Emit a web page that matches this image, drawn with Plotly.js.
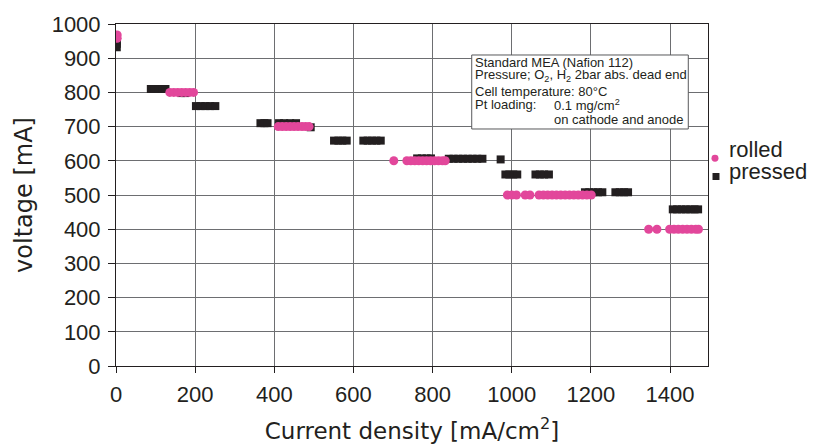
<!DOCTYPE html>
<html>
<head>
<meta charset="utf-8">
<script src="https://cdn.plot.ly/plotly-3.0.1.min.js"></script>
<style>html,body{margin:0;padding:0;background:#fff;}</style>
</head>
<body>
<div id="chart" style="width:813px;height:445px;"></div>
<script>
// Data (current density mA/cm2, voltage)
const pressedX = [2, 2, 2,
  88, 98, 108, 117, 125,
  165, 175,
  202, 214, 226, 238, 251,
  365, 375, 383,
  412, 425, 440, 455,
  492,
  551, 562, 572, 583,
  625, 636, 647, 658, 669,
  761, 773, 785, 796,
  841, 853, 865, 877, 889, 901, 913, 926,
  972,
  984, 994, 1004, 1014,
  1060, 1071, 1082, 1094,
  1185, 1196, 1207, 1218, 1229,
  1262, 1273, 1284, 1294,
  1407, 1418, 1429, 1440, 1451, 1462, 1471];
const pressedY = [932, 942, 952,
  810, 810, 810, 810, 810,
  798, 798,
  760, 760, 760, 760, 760,
  710, 710, 710,
  710, 710, 710, 710,
  698,
  659, 659, 659, 659,
  659, 659, 659, 659, 659,
  607, 607, 607, 607,
  606, 606, 606, 606, 606, 606, 606, 606,
  604,
  560, 560, 560, 560,
  560, 560, 560, 560,
  508, 508, 508, 508, 508,
  508, 508, 508, 508,
  458, 458, 458, 458, 458, 458, 458];

const rolledX = [3, 3,
  136, 146, 156, 166, 176, 186, 196,
  410, 420, 430, 440, 450, 460, 470, 479, 488,
  702,
  735, 745, 755, 765, 775, 785, 795, 805, 815, 825, 832,
  989, 1000, 1012,
  1034, 1046,
  1069, 1080, 1091, 1102, 1113, 1124, 1135, 1146, 1157, 1168, 1179, 1190, 1201,
  1346, 1367,
  1399, 1410, 1421, 1432, 1443, 1454, 1465, 1472];
const rolledY = [958, 968,
  800, 800, 800, 800, 800, 800, 800,
  700, 700, 700, 700, 700, 700, 700, 700, 700,
  600,
  600, 600, 600, 600, 600, 600, 600, 600, 600, 600, 600,
  500, 500, 500,
  500, 500,
  500, 500, 500, 500, 500, 500, 500, 500, 500, 500, 500, 500, 500,
  400, 400,
  400, 400, 400, 400, 400, 400, 400, 400];

const seriesNames = ["rolled", "pressed"];
const infoLines = [
  "Standard MEA (Nafion 112)",
  "Pressure; O<sub>2</sub>, H<sub>2</sub> 2bar abs. dead end",
  "Cell temperature: 80°C",
  "Pt loading:",
  "0.1 mg/cm<sup>2</sup>",
  "on cathode and anode"
];

const PINK = "#e2479b";
const BLACK = "#231f20";
const TXT = "#231f20";
const GRID = "#6d6e71";

const traces = [
  {x: pressedX, y: pressedY, type: "scatter", mode: "markers", name: seriesNames[1],
   marker: {symbol: "square", size: 8, color: BLACK}, showlegend: false, hoverinfo: "x+y"},
  {x: rolledX, y: rolledY, type: "scatter", mode: "markers", name: seriesNames[0],
   marker: {symbol: "circle", size: 9, color: PINK}, showlegend: false, hoverinfo: "x+y"}
];

const boxFont = {family: "Liberation Sans, Arial, sans-serif", size: 13, color: TXT};
const annotations = [
  {xref: "paper", yref: "paper", x: 0.6022, y: 0.8868, xanchor: "left", yanchor: "middle", text: infoLines[0], showarrow: false, font: boxFont},
  {xref: "paper", yref: "paper", x: 0.6022, y: 0.8480, xanchor: "left", yanchor: "middle", text: infoLines[1], showarrow: false, font: boxFont},
  {xref: "paper", yref: "paper", x: 0.6022, y: 0.8020, xanchor: "left", yanchor: "middle", text: infoLines[2], showarrow: false, font: boxFont},
  {xref: "paper", yref: "paper", x: 0.6022, y: 0.7632, xanchor: "left", yanchor: "middle", text: infoLines[3], showarrow: false, font: boxFont},
  {xref: "paper", yref: "paper", x: 0.7373, y: 0.7632, xanchor: "left", yanchor: "middle", text: infoLines[4], showarrow: false, font: boxFont},
  {xref: "paper", yref: "paper", x: 0.7373, y: 0.7193, xanchor: "left", yanchor: "middle", text: infoLines[5], showarrow: false, font: boxFont},
  {xref: "paper", yref: "paper", x: 1.0321, y: 0.6316, xanchor: "left", yanchor: "middle", text: seriesNames[0], showarrow: false,
   font: {family: "Liberation Sans, Arial, sans-serif", size: 22, color: TXT}},
  {xref: "paper", yref: "paper", x: 1.0321, y: 0.5681, xanchor: "left", yanchor: "middle", text: seriesNames[1], showarrow: false,
   font: {family: "Liberation Sans, Arial, sans-serif", size: 22, color: TXT}}
];

const shapes = [
  {type: "rect", xref: "paper", yref: "paper", x0: 0.6009, x1: 0.9667, y0: 0.6930, y1: 0.9094,
   fillcolor: "#ffffff", line: {color: "#58595b", width: 1}, layer: "above"},
  {type: "circle", xref: "paper", yref: "paper", x0: 1.0059, x1: 1.0177, y0: 0.5971, y1: 0.6175,
   fillcolor: PINK, line: {width: 0}},
  {type: "rect", xref: "paper", yref: "paper", x0: 1.0076, x1: 1.0194, y0: 0.5439, y1: 0.5643,
   fillcolor: BLACK, line: {width: 0}}
];

const layout = {
  width: 813, height: 445,
  margin: {l: 116, r: 105, t: 24, b: 79, pad: 0},
  paper_bgcolor: "#ffffff", plot_bgcolor: "#ffffff",
  showlegend: false,
  xaxis: {
    range: [0, 1496], dtick: 200, tick0: 0,
    showgrid: true, gridcolor: GRID, gridwidth: 1,
    showline: true, linecolor: BLACK, linewidth: 1, mirror: true,
    ticks: "outside", ticklen: 6, tickcolor: BLACK, tickwidth: 1,
    ticklabelstandoff: 3,
    zeroline: false,
    tickfont: {family: "Liberation Sans, Arial, sans-serif", size: 22, color: TXT},
    title: {text: "Current density [mA/cm<sup>2</sup>]", standoff: 16,
            font: {family: "DejaVu Sans, sans-serif", size: 23, color: TXT}}
  },
  yaxis: {
    range: [0, 1000], dtick: 100, tick0: 0,
    showgrid: true, gridcolor: GRID, gridwidth: 1,
    showline: true, linecolor: BLACK, linewidth: 1, mirror: true,
    ticks: "outside", ticklen: 7, tickcolor: BLACK, tickwidth: 1,
    ticklabelstandoff: 3,
    zeroline: false,
    tickfont: {family: "Liberation Sans, Arial, sans-serif", size: 22, color: TXT},
    title: {text: "voltage [mA]", standoff: 12,
            font: {family: "DejaVu Sans, sans-serif", size: 24, color: TXT}}
  },
  annotations: annotations,
  shapes: shapes
};

Plotly.newPlot("chart", traces, layout, {displayModeBar: false, staticPlot: true});
</script>
</body>
</html>
